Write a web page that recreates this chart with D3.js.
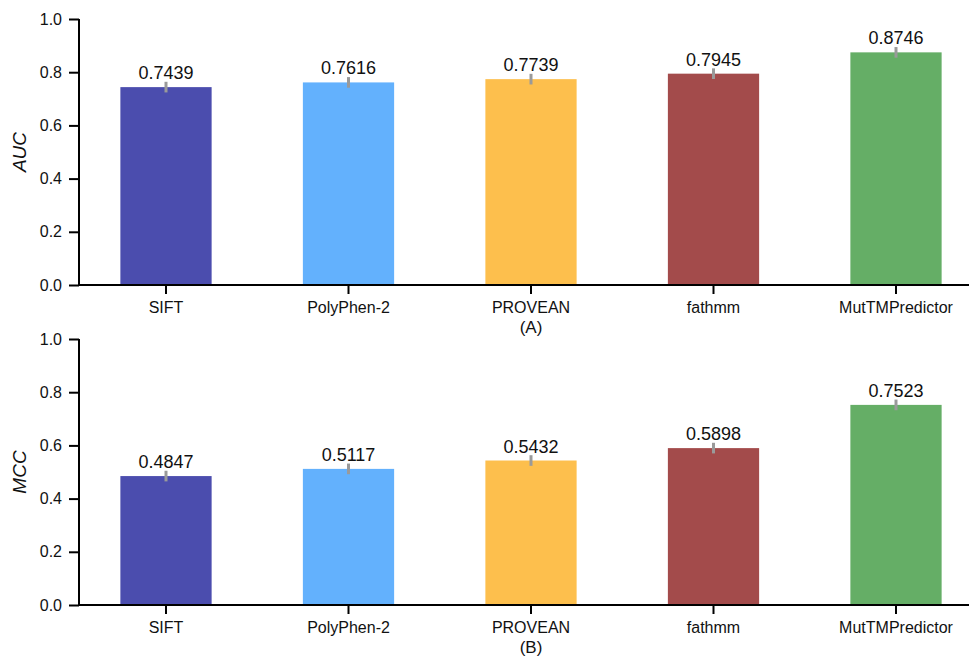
<!DOCTYPE html>
<html>
<head>
<meta charset="utf-8">
<script src="https://cdn.jsdelivr.net/npm/d3@7"></script>
<style>
  html, body { margin: 0; padding: 0; background: #fff; }
  svg { display: block; font-family: "Liberation Sans", Arial, Helvetica, sans-serif; }
</style>
</head>
<body>
<svg id="chart" width="969" height="657"></svg>
<script>
// Predictor names and colours
const categories = ["SIFT", "PolyPhen-2", "PROVEAN", "fathmm", "MutTMPredictor"];
const barColors = ["#4b4dae", "#63b1fd", "#fdbf4d", "#a34b4b", "#65ae66"];

// AUC scores and their error spread
const aucValues = [0.7439, 0.7616, 0.7739, 0.7945, 0.8746];
const aucErrors = [0.02, 0.02, 0.02, 0.02, 0.02];

// MCC scores and their error spread
const mccValues = [0.4847, 0.5117, 0.5432, 0.5898, 0.7523];
const mccErrors = [0.02, 0.02, 0.02, 0.02, 0.02];

// Shared y ticks
const yTicks = [0.0, 0.2, 0.4, 0.6, 0.8, 1.0];

const svg = d3.select("#chart");

const x = d3.scaleBand()
  .domain(categories)
  .range([74.75, 987.25])
  .paddingInner(0.5)
  .paddingOuter(0.25);

const color = d3.scaleOrdinal().domain(categories).range(barColors);

function drawPanel(top, values, errors, yLabel, panelTag) {
  const y = d3.scaleLinear().domain([0, 1]).range([top + 266, top]);
  const g = svg.append("g");
  const axisLeftX = 79;

  // bars
  g.selectAll("rect.bar")
    .data(categories)
    .join("rect")
    .attr("class", "bar")
    .attr("x", d => x(d))
    .attr("width", x.bandwidth())
    .attr("y", (d, i) => y(values[i]))
    .attr("height", (d, i) => y(0) - y(values[i]))
    .attr("fill", d => color(d));

  // error bars
  g.selectAll("line.err")
    .data(categories)
    .join("line")
    .attr("class", "err")
    .attr("x1", d => x(d) + x.bandwidth() / 2)
    .attr("x2", d => x(d) + x.bandwidth() / 2)
    .attr("y1", (d, i) => y(values[i] + errors[i]))
    .attr("y2", (d, i) => y(values[i] - errors[i]))
    .attr("stroke", "#9a9a9a")
    .attr("stroke-width", 3);

  // value labels
  g.selectAll("text.val")
    .data(categories)
    .join("text")
    .attr("class", "val")
    .attr("x", d => x(d) + x.bandwidth() / 2)
    .attr("y", (d, i) => y(values[i]) - 8)
    .attr("text-anchor", "middle")
    .attr("font-size", 18)
    .attr("fill", "#111")
    .text((d, i) => values[i].toFixed(4));

  // y axis
  const yAxis = d3.axisLeft(y)
    .tickValues(yTicks)
    .tickFormat(d3.format(".1f"))
    .tickSize(10)
    .tickPadding(7);
  const ya = g.append("g")
    .attr("transform", `translate(${axisLeftX},0)`)
    .call(yAxis);
  ya.select(".domain").attr("stroke", "#000").attr("stroke-width", 2)
    .attr("d", `M0,${y(1)}V${y(0) + 1}`);
  ya.selectAll(".tick line").attr("stroke", "#000").attr("stroke-width", 2);
  ya.selectAll(".tick text").attr("font-size", 16).attr("fill", "#111")
    .attr("font-family", "Liberation Sans, Arial, sans-serif");

  // x axis
  const xAxis = d3.axisBottom(x).tickSize(9).tickPadding(8);
  const xa = g.append("g")
    .attr("transform", `translate(0,${y(0)})`)
    .call(xAxis);
  xa.select(".domain").attr("stroke", "#000").attr("stroke-width", 2)
    .attr("d", `M${axisLeftX - 1},0H969`);
  xa.selectAll(".tick line").attr("stroke", "#000").attr("stroke-width", 2);
  xa.selectAll(".tick text").attr("font-size", 16).attr("fill", "#111")
    .attr("font-family", "Liberation Sans, Arial, sans-serif");

  // y axis title
  g.append("text")
    .attr("transform", `translate(26,${(y(0) + y(1)) / 2}) rotate(-90)`)
    .attr("text-anchor", "middle")
    .attr("font-size", 19)
    .attr("font-style", "italic")
    .attr("fill", "#111")
    .text(yLabel);

  // panel tag
  g.append("text")
    .attr("x", x(categories[2]) + x.bandwidth() / 2)
    .attr("y", y(0) + 48)
    .attr("text-anchor", "middle")
    .attr("font-size", 17)
    .attr("fill", "#111")
    .text(panelTag);
}

drawPanel(19, aucValues, aucErrors, "AUC", "(A)");
drawPanel(339, mccValues, mccErrors, "MCC", "(B)");
</script>
</body>
</html>
